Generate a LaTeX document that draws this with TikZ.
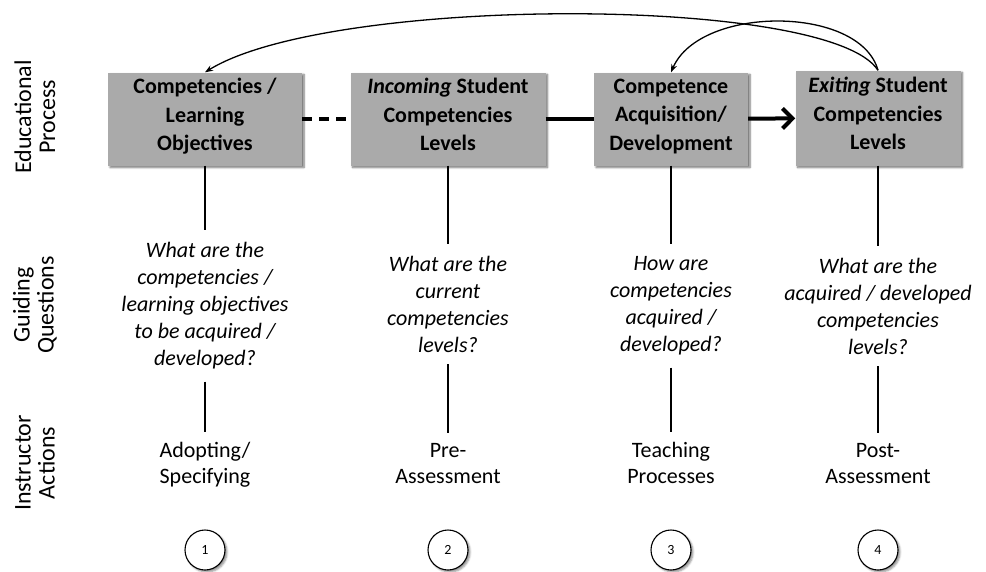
\documentclass[tikz,border=0pt]{standalone}
\usepackage{fontspec}
\setmainfont{Carlito}
\usetikzlibrary{arrows.meta,shadows.blur}
\definecolor{boxgray}{RGB}{170,170,170}
\begin{document}
\begin{tikzpicture}[x=1pt,y=-1pt,
	box/.style={rectangle,fill=boxgray,minimum height=93pt,align=center,inner sep=0pt,
		font=\fontsize{22}{28.5}\selectfont\bfseries,
		execute at begin node=\rule{0pt}{28pt},execute at end node=\strut,
		blur shadow={shadow xshift=2pt,shadow yshift=-2pt,shadow blur steps=6,shadow opacity=55}},
	question/.style={align=center,inner xsep=0pt,inner ysep=12pt,font=\fontsize{22}{27}\selectfont\itshape},
	action/.style={align=center,inner xsep=0pt,inner ysep=10pt,font=\fontsize{22}{26}\selectfont,
		execute at begin node=\strut,execute at end node=\strut},
	side/.style={rotate=90,align=center,font=\fontsize{24}{24}\selectfont},
	stage/.style={circle,draw,line width=1.1pt,fill=white,minimum size=40pt,inner sep=0pt,
		font=\fontsize{14}{16}\selectfont,
		blur shadow={shadow xshift=2pt,shadow yshift=-2pt,shadow blur steps=5,shadow opacity=45}},
	vline/.style={line width=2.6pt},
	loop/.style={line width=1.3pt,-{Stealth[length=8pt,width=6pt]}}]
\useasboundingbox (0,0) rectangle (986,571);
% row labels
\node[side] (edu) at (35,117) {Educational\\Process};
\node[side] (gq) at (35,305) {Guiding\\Questions};
\node[side] (ia) at (35,463) {Instructor\\Actions};
% educational process
\node[box,minimum width=194pt] (lo) at (205,119) {Competencies /\\Learning\\Objectives};
\node[box,minimum width=195pt] (inc) at (448,119) {\textit{Incoming} Student\\Competencies\\Levels};
\node[box,minimum width=154pt] (acq) at (671,119) {Competence\\Acquisition/\\Development};
\node[box,minimum width=165pt,minimum height=95pt] (ext) at (878,118) {\textit{Exiting} Student\\Competencies\\Levels};
\draw[line width=4pt,dash pattern=on 10pt off 7pt] (lo) -- (inc);
\draw[line width=4pt] (inc) -- (acq);
\draw[line width=4pt,-{Straight Barb[length=10pt,width=20pt]}] (acq) -- (ext);
\draw[loop] (ext.north) .. controls (830,-5) and (330,-5) .. (lo.north);
\draw[loop] (ext.north) .. controls (860,5) and (700,5) .. (acq.north);
% guiding questions
\node[question] (q1) at (205,306) {What are the\\competencies /\\learning objectives\\to be acquired /\\developed?};
\node[question] (q2) at (448,304) {What are the\\current\\competencies\\levels?};
\node[question] (q3) at (671,306) {How are\\competencies\\acquired /\\developed?};
\node[question] (q4) at (878,306) {What are the\\acquired / developed\\competencies\\levels?};
% instructor actions
\node[action] (a1) at (205,467) {Adopting/\\Specifying};
\node[action] (a2) at (448,467) {Pre-\\Assessment};
\node[action] (a3) at (671,467) {Teaching\\Processes};
\node[action] (a4) at (878,467) {Post-\\Assessment};
\foreach \i/\b in {1/lo,2/inc,3/acq,4/ext}{
	\draw[vline] (\b) -- (q\i);
	\draw[vline] (q\i) -- (a\i);
}
% stages
\node[stage] (s1) at (205,550) {1};
\node[stage] (s2) at (448,550) {2};
\node[stage] (s3) at (671,550) {3};
\node[stage] (s4) at (878,550) {4};
\end{tikzpicture}
\end{document}
